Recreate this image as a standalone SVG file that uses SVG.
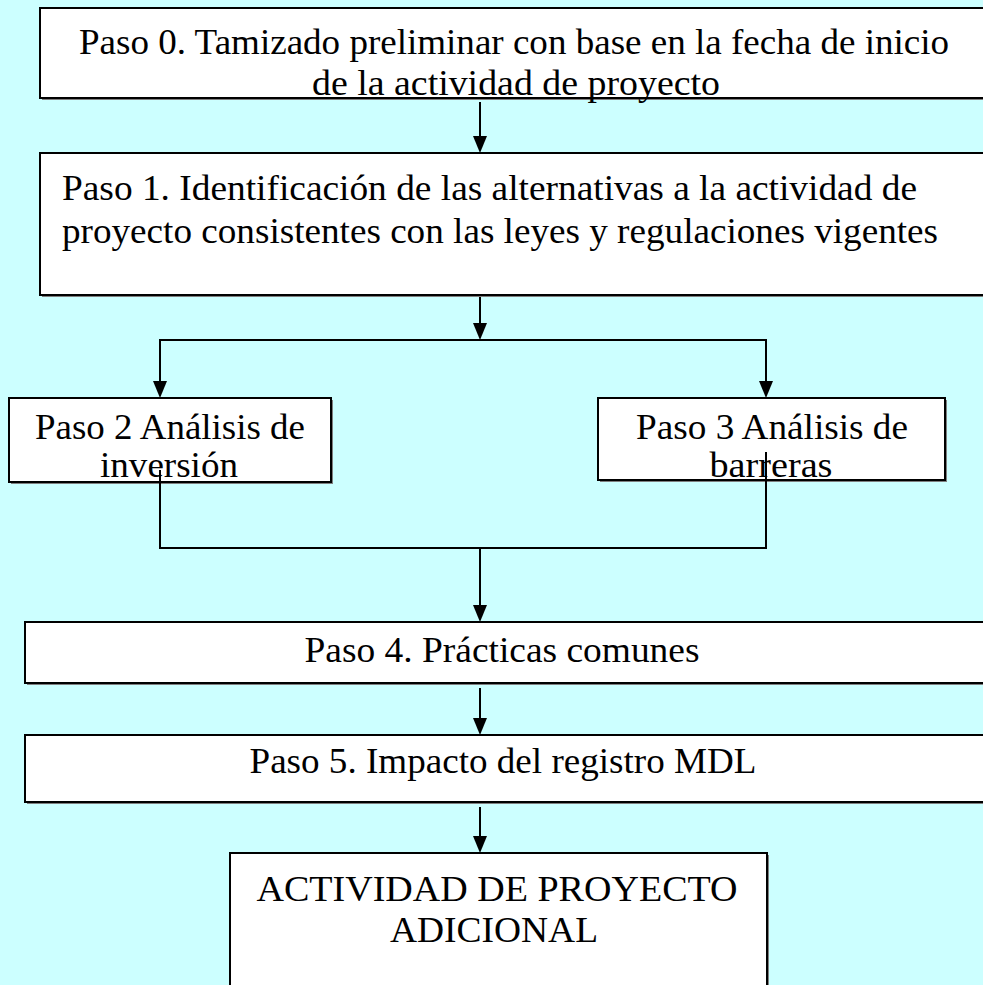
<svg xmlns="http://www.w3.org/2000/svg" width="983" height="985" viewBox="0 0 983 985">
<defs>
<style>
.bg{fill:#CCFFFF}
.box{fill:#FFFFFF;stroke:#000000;stroke-width:2}
.sh{fill:#7F7F7F}
.t{font-family:"Liberation Serif","Times New Roman",serif;font-size:36px;fill:#000000}
.c{text-anchor:middle}
.ln{stroke:#000000;stroke-width:2;fill:none}
.ah{fill:#000000}
</style>
</defs>
<rect class="bg" x="0" y="0" width="983" height="985"/>
<g id="paso0">
<rect class="sh" x="42" y="10" width="950" height="90"/>
<rect class="box" x="40" y="8" width="950" height="90"/>
<text class="t c" x="514" y="54" textLength="870" lengthAdjust="spacingAndGlyphs">Paso 0. Tamizado preliminar con base en la fecha de inicio</text>
<text class="t c" x="516" y="95" textLength="408" lengthAdjust="spacingAndGlyphs">de la actividad de proyecto</text>
</g>
<g id="paso1">
<rect class="sh" x="42" y="155" width="950" height="142"/>
<rect class="box" x="40" y="153" width="950" height="142"/>
<text class="t" x="62" y="200" textLength="855" lengthAdjust="spacingAndGlyphs">Paso 1. Identificación de las alternativas a la actividad de</text>
<text class="t" x="62" y="243" textLength="876" lengthAdjust="spacingAndGlyphs">proyecto consistentes con las leyes y regulaciones vigentes</text>
</g>
<g id="paso2">
<rect class="sh" x="11" y="400" width="322" height="84"/>
<rect class="box" x="9" y="398" width="322" height="84"/>
<text class="t c" x="170" y="439" textLength="270" lengthAdjust="spacingAndGlyphs">Paso 2 Análisis de</text>
<text class="t c" x="169" y="477" textLength="138" lengthAdjust="spacingAndGlyphs">inversión</text>
</g>
<g id="paso3">
<rect class="sh" x="600" y="400" width="347" height="82"/>
<rect class="box" x="598" y="398" width="347" height="82"/>
<text class="t c" x="772" y="439" textLength="272" lengthAdjust="spacingAndGlyphs">Paso 3 Análisis de</text>
<text class="t c" x="771" y="477" textLength="123" lengthAdjust="spacingAndGlyphs">barreras</text>
</g>
<g id="paso4">
<rect class="sh" x="27" y="624" width="970" height="61"/>
<rect class="box" x="25" y="622" width="970" height="61"/>
<text class="t c" x="502" y="662" textLength="395" lengthAdjust="spacingAndGlyphs">Paso 4. Prácticas comunes</text>
</g>
<g id="paso5">
<rect class="sh" x="27" y="737" width="970" height="67"/>
<rect class="box" x="25" y="735" width="970" height="67"/>
<text class="t c" x="503" y="773" textLength="507" lengthAdjust="spacingAndGlyphs">Paso 5. Impacto del registro MDL</text>
</g>
<g id="final">
<rect class="sh" x="232" y="855" width="537" height="140"/>
<rect class="box" x="230" y="853" width="537" height="140"/>
<text class="t c" x="497" y="901" textLength="481" lengthAdjust="spacingAndGlyphs">ACTIVIDAD DE PROYECTO</text>
<text class="t c" x="494" y="942" textLength="208" lengthAdjust="spacingAndGlyphs">ADICIONAL</text>
</g>
<g id="connectors">
<line class="ln" x1="480" y1="102" x2="480" y2="140"/>
<path class="ah" d="M473,136 L487,136 L480,153 Z"/>
<line class="ln" x1="480" y1="297" x2="480" y2="328"/>
<path class="ah" d="M473,323 L487,323 L480,340 Z"/>
<polyline class="ln" points="160,386 160,340 766,340 766,386"/>
<path class="ah" d="M153,381 L167,381 L160,398 Z"/>
<path class="ah" d="M759,381 L773,381 L766,398 Z"/>
<polyline class="ln" points="160,470 160,548 766,548 766,452"/>
<line class="ln" x1="480" y1="548" x2="480" y2="610"/>
<path class="ah" d="M473,605 L487,605 L480,622 Z"/>
<line class="ln" x1="480" y1="688" x2="480" y2="722"/>
<path class="ah" d="M473,718 L487,718 L480,735 Z"/>
<line class="ln" x1="480" y1="807" x2="480" y2="841"/>
<path class="ah" d="M473,836 L487,836 L480,853 Z"/>
</g>
</svg>
